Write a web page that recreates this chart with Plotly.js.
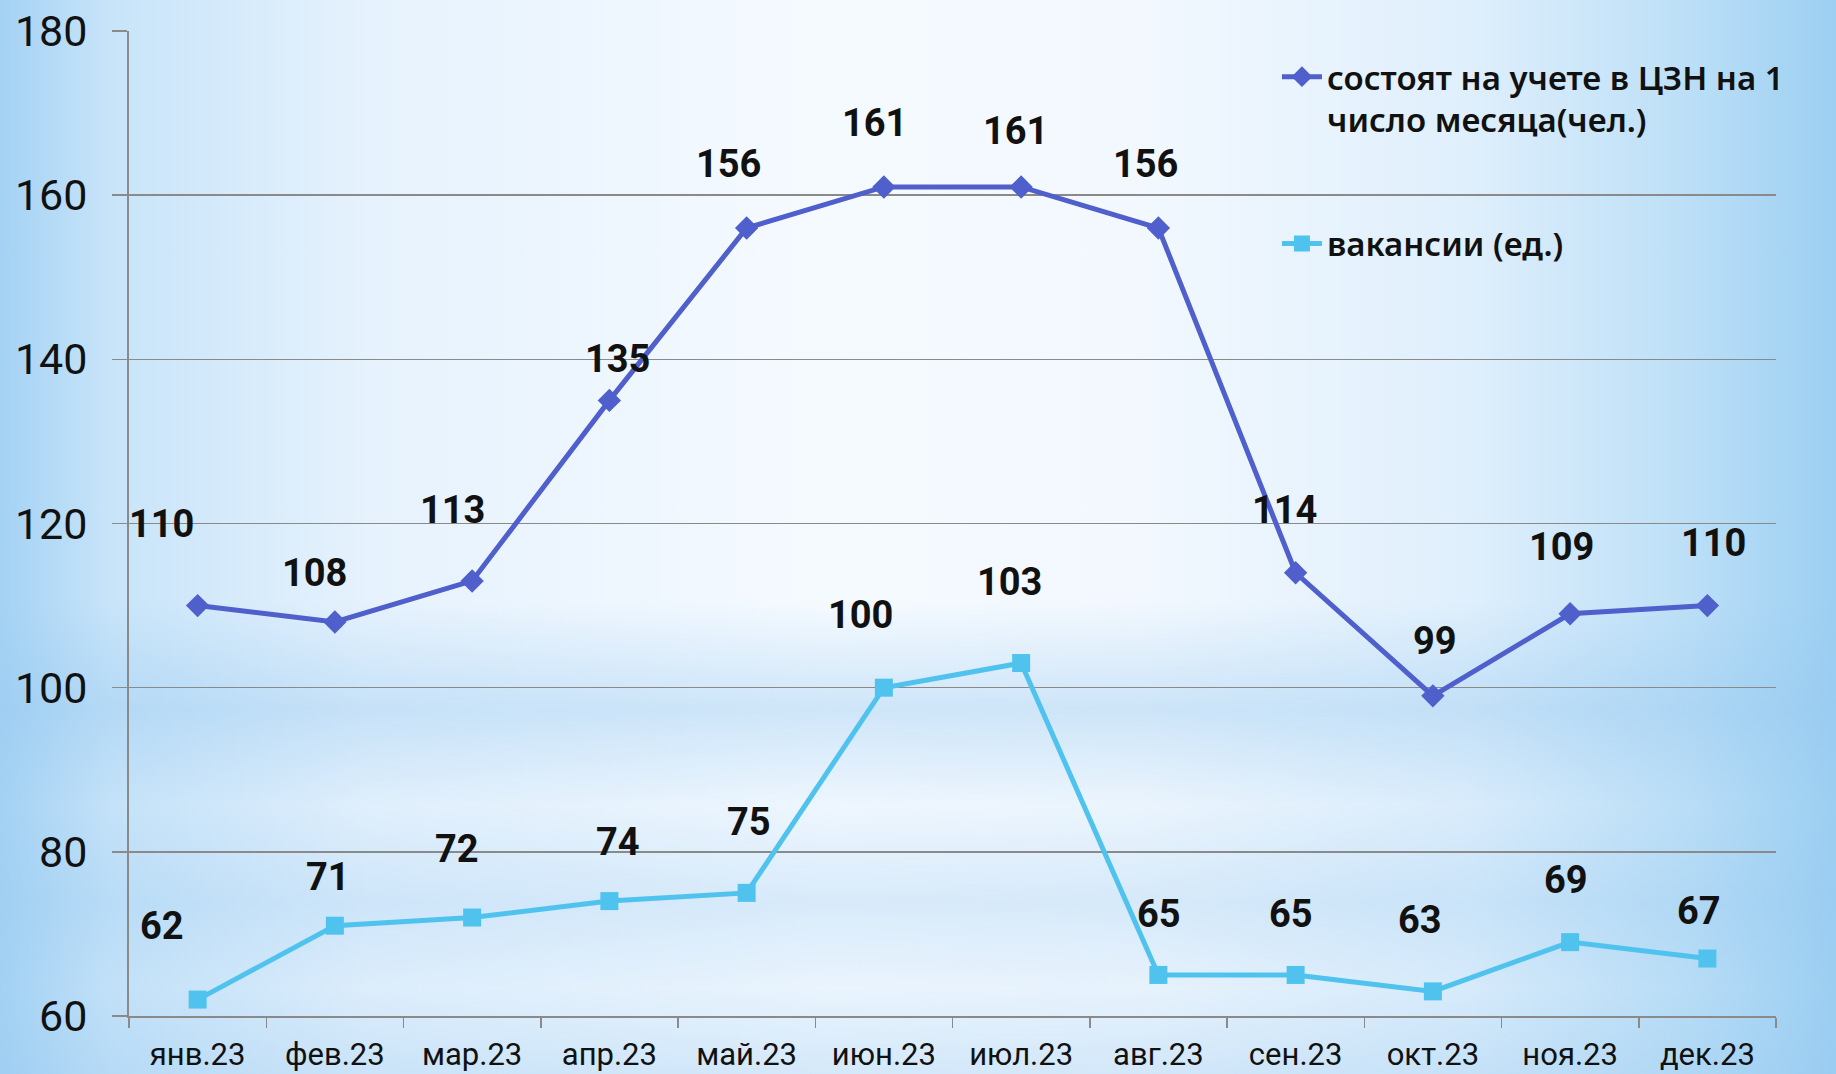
<!DOCTYPE html>
<html>
<head>
<meta charset="utf-8">
<script src="https://cdn.plot.ly/plotly-3.0.1.min.js"></script>
<style>
  html, body { margin: 0; padding: 0; }
  body {
    width: 1836px; height: 1074px; overflow: hidden;
    background:
      linear-gradient(to bottom, rgba(150,200,240,0) 0%, rgba(150,200,240,0) 56%, rgba(150,200,240,0.4) 66%, rgba(150,200,240,0.08) 75%, rgba(150,200,240,0.3) 84%, rgba(150,200,240,0.12) 92%, rgba(150,200,240,0.35) 100%),
      linear-gradient(to right, #a4d2f4 0%, #c8e4f9 6%, #e6f2fd 20%, #f5faff 45%, #f2f8fe 62%, #dfeffc 80%, #bcdff7 92%, #9ccff2 100%);
  }
  #chart { width: 1836px; height: 1074px; }
</style>
</head>
<body>
<div id="chart"></div>
<script>
const months = ['янв.23','фев.23','мар.23','апр.23','май.23','июн.23','июл.23','авг.23','сен.23','окт.23','ноя.23','дек.23'];
const registered = [110,108,113,135,156,161,161,156,114,99,109,110];
const vacancies = [62,71,72,74,75,100,103,65,65,63,69,67];
const nameRegistered = 'состоят на учете в ЦЗН на 1<br>число месяца(чел.)';
const nameVacancies = 'вакансии (ед.)';

// label placement offsets (pixels) relative to each point
const regShiftX = [-36,-20,-20,8,-18,-9,-6,-13,-11,2,-9,6];
const regShiftY = [82,49,71,41,64,64,56,64,63,55,67,63];
const vacShiftX = [-36,-7,-15,9,2,-23,-12,1,-5,-13,-4,-8];
const vacShiftY = [74,49,69,59,71,73,81,61,61,71,62,48];

const darkBlue = '#4f5fcb';
const lightBlue = '#4fc3ee';

const traces = [
  {
    x: months, y: registered, name: nameRegistered, type: 'scatter', mode: 'lines+markers',
    legendgroup: 'a',
    line: { color: darkBlue, width: 5 },
    marker: { symbol: 'diamond', size: 18, color: darkBlue },
    hoverinfo: 'skip'
  },
  {
    x: months, y: vacancies, name: nameVacancies, type: 'scatter', mode: 'lines+markers',
    legendgroup: 'b',
    line: { color: lightBlue, width: 5 },
    marker: { symbol: 'square', size: 18, color: lightBlue },
    hoverinfo: 'skip'
  }
];

const labelFont = { family: 'Roboto, "Noto Sans", sans-serif', size: 38, color: '#111111', weight: 700 };
const annotations = [];
months.forEach((m, i) => {
  annotations.push({ x: m, y: registered[i], xref: 'x', yref: 'y', text: '<b>' + registered[i] + '</b>',
    showarrow: false, xshift: regShiftX[i], yshift: regShiftY[i], font: labelFont });
  annotations.push({ x: m, y: vacancies[i], xref: 'x', yref: 'y', text: '<b>' + vacancies[i] + '</b>',
    showarrow: false, xshift: vacShiftX[i], yshift: vacShiftY[i], font: labelFont });
});

const layout = {
  width: 1836, height: 1074,
  paper_bgcolor: 'rgba(0,0,0,0)', plot_bgcolor: 'rgba(0,0,0,0)',
  margin: { l: 129, r: 60, t: 31, b: 58 },
  showlegend: true,
  legend: {
    x: 0.697, y: 0.982, xanchor: 'left', yanchor: 'top',
    bgcolor: 'rgba(0,0,0,0)', borderwidth: 0,
    font: { family: '"Noto Sans", "DejaVu Sans", sans-serif', size: 33, color: '#111111', weight: 600 },
    traceorder: 'grouped', tracegroupgap: 78, valign: 'top',
    itemwidth: 40
  },
  xaxis: {
    type: 'category', range: [-0.5, 11.5],
    showgrid: false, showline: true, linecolor: '#8a8a8a', linewidth: 2,
    ticks: 'outside', tickson: 'boundaries', ticklen: 10, tickcolor: '#8a8a8a', tickwidth: 1.5,
    tickfont: { family: 'Roboto, "Noto Sans", sans-serif', size: 31, color: '#111111' },
    ticklabelstandoff: 10,
    fixedrange: true, zeroline: false
  },
  yaxis: {
    range: [60, 180], dtick: 20, tick0: 60,
    showgrid: true, gridcolor: '#8a8a8a', gridwidth: 1.5,
    showline: true, linecolor: '#8a8a8a', linewidth: 2,
    ticks: 'outside', ticklen: 15, tickcolor: '#8a8a8a', tickwidth: 1.5,
    tickfont: { family: 'Roboto, "Noto Sans", sans-serif', size: 43, color: '#111111' },
    ticklabelstandoff: 16,
    zeroline: false, fixedrange: true
  },
  annotations: annotations
};

Plotly.newPlot('chart', traces, layout, { staticPlot: true, displayModeBar: false });
</script>
</body>
</html>
